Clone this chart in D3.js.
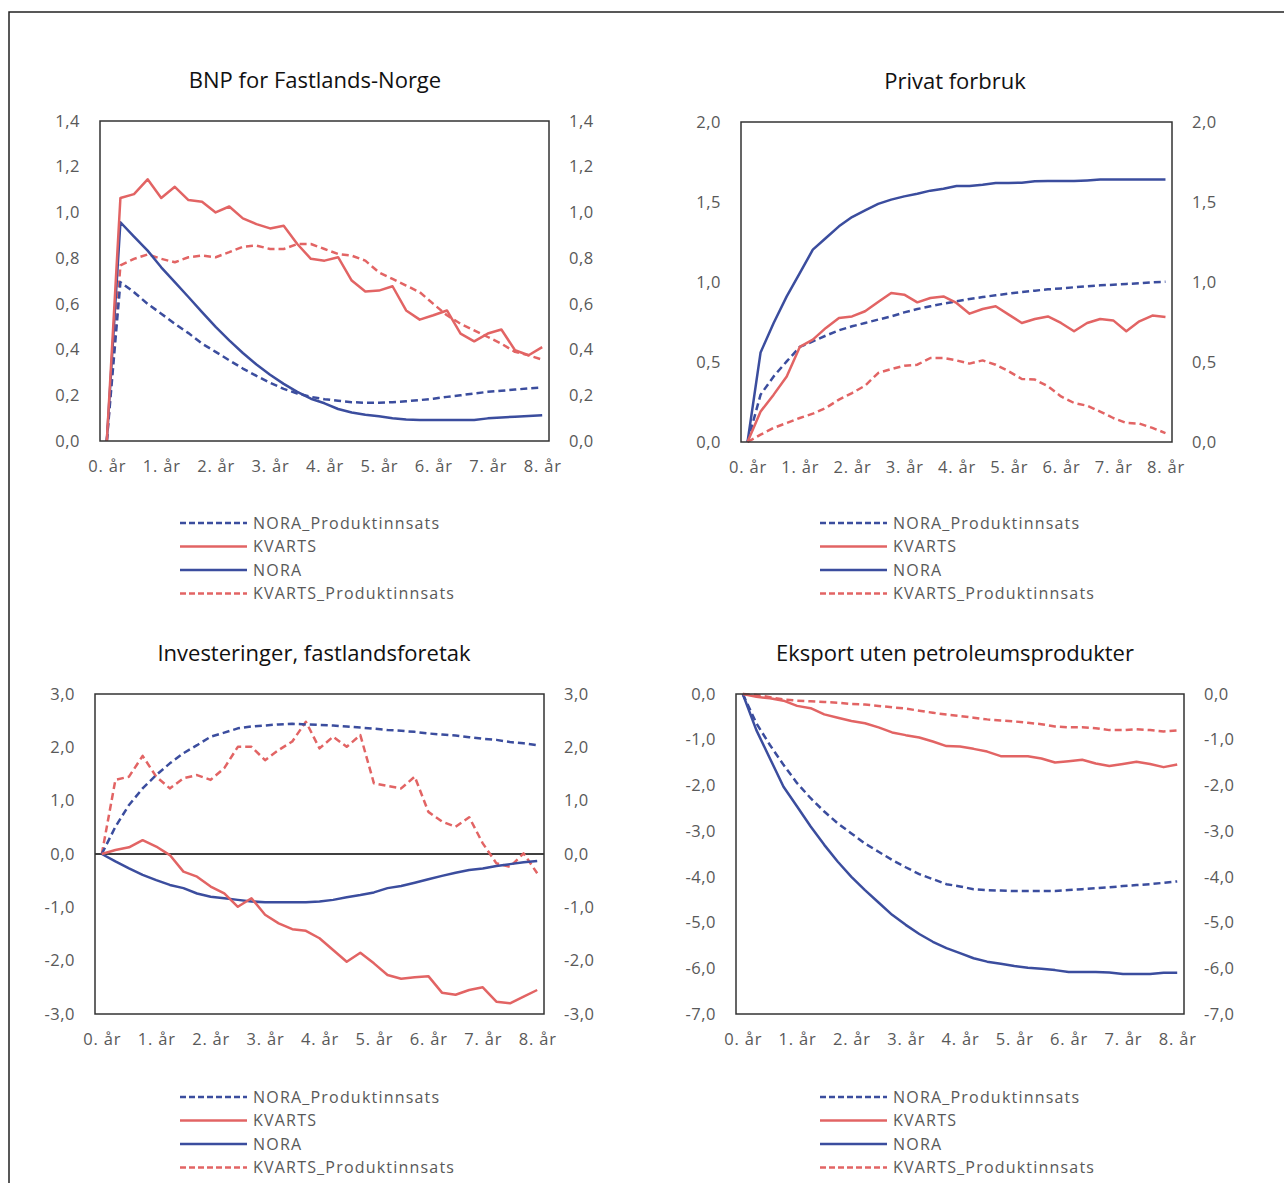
<!DOCTYPE html>
<html lang="no">
  <head>
    <title>Fire paneler</title>
    <meta charset="utf-8">
    <script src="https://d3js.org/d3.v7.min.js"></script>
    <style>
      body { margin: 0; background: #fff; }
      svg text { font-family: "Open Sans", "Noto Sans", sans-serif; }
    </style>
  </head>
  <body>
    <div id="chart"></div>
    <script>
      // kvartaler 0..32, etiketter hvert 4. kvartal
      const quarters = d3.range(0, 33);
      const yearLabels = ["0. år", "1. år", "2. år", "3. år", "4. år", "5. år", "6. år", "7. år", "8. år"];
      const seriesNames = ["NORA_Produktinnsats", "KVARTS", "NORA", "KVARTS_Produktinnsats"];

      // BNP for Fastlands-Norge
      const bnpNoraProd = [0, 0.695, 0.651, 0.6, 0.557, 0.513, 0.472, 0.426, 0.39, 0.353, 0.317, 0.285, 0.255, 0.228, 0.208, 0.193, 0.183,
        0.176, 0.17, 0.167, 0.167, 0.17, 0.174, 0.179, 0.185, 0.193, 0.2, 0.208, 0.215, 0.22, 0.225, 0.23, 0.234];
      const bnpKvarts = [0, 1.063, 1.08, 1.145, 1.063, 1.112, 1.054, 1.047, 1.0, 1.026, 0.974, 0.949, 0.93, 0.942, 0.862, 0.797, 0.789,
        0.804, 0.702, 0.654, 0.658, 0.677, 0.571, 0.531, 0.55, 0.571, 0.47, 0.436, 0.47, 0.488, 0.397, 0.375, 0.411];
      const bnpNora = [0, 0.957, 0.894, 0.833, 0.76, 0.695, 0.63, 0.564, 0.499, 0.44, 0.385, 0.335, 0.29, 0.25, 0.215, 0.185, 0.165,
        0.14, 0.125, 0.115, 0.108, 0.1, 0.094, 0.092, 0.092, 0.092, 0.092, 0.092, 0.099, 0.103, 0.106, 0.109, 0.113];
      const bnpKvartsProd = [0, 0.768, 0.797, 0.816, 0.797, 0.782, 0.804, 0.811, 0.804, 0.826, 0.85, 0.855, 0.84, 0.84, 0.862, 0.862, 0.84,
        0.818, 0.811, 0.789, 0.738, 0.709, 0.68, 0.651, 0.6, 0.55, 0.513, 0.484, 0.455, 0.426, 0.39, 0.375, 0.356];

      // Privat forbruk
      const forbrukNoraProd = [0, 0.296, 0.41, 0.504, 0.594, 0.629, 0.665, 0.698, 0.723, 0.744, 0.765, 0.785, 0.81, 0.831, 0.848, 0.865, 0.879,
        0.894, 0.906, 0.917, 0.927, 0.938, 0.946, 0.954, 0.96, 0.967, 0.973, 0.979, 0.983, 0.988, 0.992, 0.998, 1.002];
      const forbrukKvarts = [0, 0.19, 0.296, 0.41, 0.594, 0.64, 0.713, 0.775, 0.785, 0.817, 0.875, 0.931, 0.921, 0.873, 0.9, 0.91, 0.869,
        0.802, 0.831, 0.848, 0.796, 0.744, 0.769, 0.785, 0.744, 0.692, 0.744, 0.769, 0.76, 0.692, 0.754, 0.79, 0.781];
      const forbrukNora = [0, 0.56, 0.744, 0.91, 1.056, 1.202, 1.275, 1.348, 1.406, 1.448, 1.488, 1.515, 1.535, 1.552, 1.571, 1.583, 1.6,
        1.6, 1.608, 1.619, 1.619, 1.621, 1.629, 1.631, 1.631, 1.631, 1.635, 1.64, 1.64, 1.64, 1.64, 1.64, 1.64];
      const forbrukKvartsProd = [0, 0.046, 0.088, 0.119, 0.15, 0.177, 0.213, 0.265, 0.306, 0.352, 0.431, 0.456, 0.477, 0.483, 0.525, 0.525, 0.51,
        0.49, 0.51, 0.483, 0.442, 0.394, 0.39, 0.348, 0.285, 0.244, 0.227, 0.19, 0.15, 0.119, 0.115, 0.088, 0.056];

      // Investeringer, fastlandsforetak
      const invNoraProd = [0, 0.51, 0.92, 1.23, 1.48, 1.7, 1.89, 2.04, 2.2, 2.275, 2.356, 2.39, 2.41, 2.43, 2.44, 2.43, 2.42,
        2.41, 2.39, 2.37, 2.35, 2.325, 2.31, 2.29, 2.26, 2.24, 2.22, 2.19, 2.16, 2.14, 2.1, 2.075, 2.04];
      const invKvarts = [0, 0.075, 0.125, 0.26, 0.14, -0.02, -0.33, -0.425, -0.61, -0.74, -0.99, -0.83, -1.14, -1.3, -1.41, -1.44, -1.58,
        -1.8, -2.02, -1.85, -2.05, -2.27, -2.34, -2.31, -2.29, -2.6, -2.64, -2.55, -2.5, -2.77, -2.8, -2.675, -2.55];
      const invNora = [0, -0.14, -0.27, -0.39, -0.49, -0.58, -0.64, -0.74, -0.8, -0.83, -0.86, -0.89, -0.906, -0.906, -0.906, -0.906, -0.89,
        -0.86, -0.81, -0.77, -0.72, -0.64, -0.6, -0.54, -0.475, -0.41, -0.35, -0.3, -0.27, -0.225, -0.19, -0.156, -0.13];
      const invKvartsProd = [0, 1.39, 1.45, 1.84, 1.45, 1.23, 1.42, 1.48, 1.39, 1.61, 2.01, 2.01, 1.76, 1.95, 2.11, 2.48, 1.98,
        2.2, 2.01, 2.23, 1.325, 1.275, 1.23, 1.45, 0.79, 0.61, 0.51, 0.69, 0.2, -0.175, -0.24, 0.012, -0.36];

      // Eksport uten petroleumsprodukter
      const eksNoraProd = [0, -0.64, -1.115, -1.55, -1.95, -2.28, -2.57, -2.83, -3.05, -3.27, -3.45, -3.63, -3.79, -3.94, -4.05, -4.16, -4.21,
        -4.27, -4.29, -4.3, -4.31, -4.31, -4.31, -4.31, -4.29, -4.27, -4.25, -4.23, -4.2, -4.18, -4.16, -4.13, -4.1];
      const eksKvarts = [0, -0.06, -0.095, -0.146, -0.26, -0.31, -0.445, -0.52, -0.59, -0.64, -0.73, -0.84, -0.9, -0.95, -1.04, -1.14, -1.15,
        -1.2, -1.26, -1.36, -1.36, -1.36, -1.41, -1.5, -1.47, -1.44, -1.52, -1.575, -1.53, -1.48, -1.53, -1.6, -1.54];
      const eksNora = [0, -0.79, -1.41, -2.03, -2.46, -2.9, -3.3, -3.67, -4.0, -4.29, -4.56, -4.83, -5.05, -5.25, -5.42, -5.56, -5.67,
        -5.78, -5.855, -5.9, -5.95, -5.99, -6.01, -6.04, -6.08, -6.08, -6.08, -6.09, -6.125, -6.125, -6.125, -6.1, -6.1];
      const eksKvartsProd = [0, -0.02, -0.07, -0.12, -0.146, -0.16, -0.175, -0.19, -0.22, -0.23, -0.26, -0.29, -0.32, -0.365, -0.41, -0.45, -0.48,
        -0.52, -0.555, -0.58, -0.6, -0.63, -0.66, -0.71, -0.73, -0.73, -0.75, -0.79, -0.79, -0.77, -0.79, -0.82, -0.8];

      const red = "#e26464", blue = "#3b4d9e", textGrey = "#595959";
      const styles = {
        "NORA_Produktinnsats": { color: blue, dash: "7,4" },
        "KVARTS": { color: red, dash: null },
        "NORA": { color: blue, dash: null },
        "KVARTS_Produktinnsats": { color: red, dash: "7,4" }
      };

      const svg = d3.select("#chart").append("svg")
        .attr("width", 1284)
        .attr("height", 1183);

      // ytre ramme
      svg.append("rect")
        .attr("x", 9).attr("y", 12)
        .attr("width", 1300).attr("height", 1200)
        .attr("fill", "none").attr("stroke", "#222").attr("stroke-width", 1.5);

      const fmt = d => d3.format(".1f")(d).replace(".", ",").replace("−", "-");

      function drawPanel(p) {
        const g = svg.append("g");

        const x = d3.scalePoint().domain(quarters).range([p.left, p.right]).padding(0.5);
        const y = d3.scaleLinear().domain(p.domain).range([p.bottom, p.top]);
        const ticks = d3.range(p.domain[0], p.domain[1] + p.step / 2, p.step);

        g.append("text")
          .attr("x", p.titleX).attr("y", p.top - 33)
          .attr("text-anchor", "middle")
          .style("font-size", "22px").attr("fill", "#111")
          .text(p.title);

        // venstre og hoyre akse
        g.append("g")
          .attr("transform", `translate(${p.left - 8},0)`)
          .call(d3.axisLeft(y).tickValues(ticks).tickSize(0).tickPadding(12).tickFormat(fmt))
          .call(a => a.select(".domain").remove())
          .selectAll("text").style("font-size", "16.5px").style("letter-spacing", "0.5px").attr("fill", textGrey);
        g.append("g")
          .attr("transform", `translate(${p.right + 8},0)`)
          .call(d3.axisRight(y).tickValues(ticks).tickSize(0).tickPadding(12).tickFormat(fmt))
          .call(a => a.select(".domain").remove())
          .selectAll("text").style("font-size", "16.5px").style("letter-spacing", "0.5px").attr("fill", textGrey);

        // x-akse
        g.append("g")
          .attr("transform", `translate(0,${p.bottom + 16})`)
          .call(d3.axisBottom(x).tickValues(quarters.filter(q => q % 4 === 0)).tickSize(0)
            .tickFormat(q => yearLabels[q / 4]))
          .call(a => a.select(".domain").remove())
          .selectAll("text").style("font-size", "16.5px").style("letter-spacing", "0.8px").attr("fill", textGrey);

        if (p.domain[0] < 0 && p.domain[1] > 0) {
          g.append("line")
            .attr("x1", p.left).attr("x2", p.right)
            .attr("y1", y(0)).attr("y2", y(0))
            .attr("stroke", "#000").attr("stroke-width", 1.3);
        }

        const line = d3.line().x((d, i) => x(quarters[i])).y(d => y(d));

        // tegnerekkefolge: stiplede under, heltrukne over
        const order = ["KVARTS_Produktinnsats", "NORA_Produktinnsats", "NORA", "KVARTS"];
        order.forEach(name => {
          const idx = seriesNames.indexOf(name);
          g.append("path")
            .datum(p.series[idx])
            .attr("d", line)
            .attr("fill", "none")
            .attr("stroke", styles[name].color)
            .attr("stroke-width", 2.5)
            .attr("stroke-dasharray", styles[name].dash)
            .attr("stroke-linejoin", "round");
        });

        g.append("rect")
          .attr("x", p.left).attr("y", p.top)
          .attr("width", p.right - p.left).attr("height", p.bottom - p.top)
          .attr("fill", "none").attr("stroke", "#333").attr("stroke-width", 1.5);

        // forklaring
        const leg = g.append("g");
        seriesNames.forEach((name, i) => {
          const ly = p.legendY + i * 23.5;
          leg.append("line")
            .attr("x1", p.legendX).attr("x2", p.legendX + 67)
            .attr("y1", ly).attr("y2", ly)
            .attr("stroke", styles[name].color)
            .attr("stroke-width", 2.5)
            .attr("stroke-dasharray", styles[name].dash ? "6,3" : null);
          leg.append("text")
            .attr("x", p.legendX + 73).attr("y", ly)
            .attr("dy", "0.35em")
            .style("font-size", "16px")
            .style("letter-spacing", "1.2px")
            .attr("fill", textGrey)
            .text(name);
        });
      }

      drawPanel({ title: "BNP for Fastlands-Norge", titleX: 315, left: 100, right: 549, top: 121, bottom: 441,
        domain: [0, 1.4], step: 0.2, legendX: 180, legendY: 523,
        series: [bnpNoraProd, bnpKvarts, bnpNora, bnpKvartsProd] });
      drawPanel({ title: "Privat forbruk", titleX: 955, left: 741, right: 1172, top: 122, bottom: 442,
        domain: [0, 2.0], step: 0.5, legendX: 820, legendY: 523,
        series: [forbrukNoraProd, forbrukKvarts, forbrukNora, forbrukKvartsProd] });
      drawPanel({ title: "Investeringer, fastlandsforetak", titleX: 314, left: 95, right: 544, top: 694, bottom: 1014,
        domain: [-3, 3], step: 1, legendX: 180, legendY: 1097,
        series: [invNoraProd, invKvarts, invNora, invKvartsProd] });
      drawPanel({ title: "Eksport uten petroleumsprodukter", titleX: 955, left: 736, right: 1184, top: 694, bottom: 1014,
        domain: [-7, 0], step: 1, legendX: 820, legendY: 1097,
        series: [eksNoraProd, eksKvarts, eksNora, eksKvartsProd] });
    </script>
  </body>
</html>
